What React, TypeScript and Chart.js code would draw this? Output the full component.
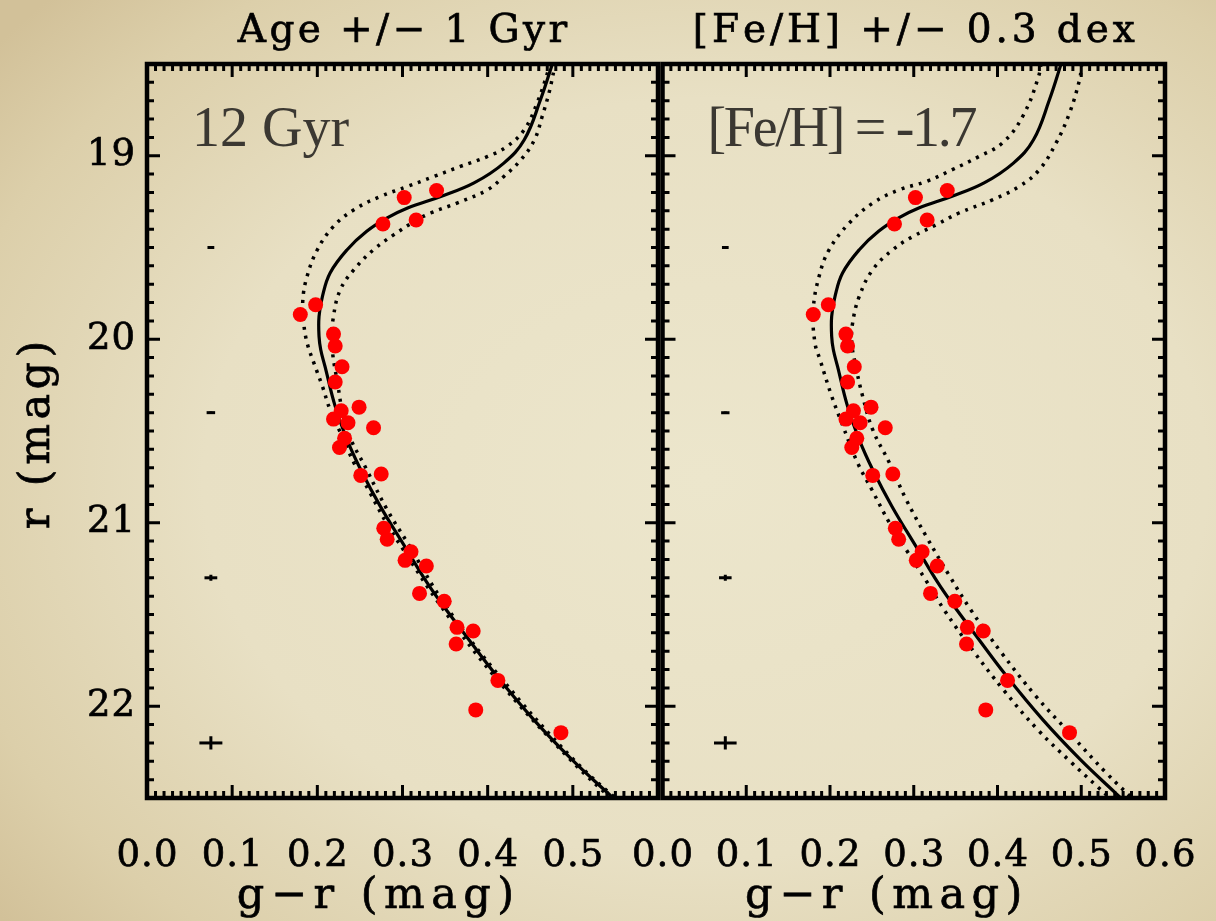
import React, { useEffect, useRef } from "react";
import { Chart, registerables } from "chart.js";
Chart.register(...registerables);

// ---- observed stars (g-r colour, r magnitude) ----
const starColor = [0.302, 0.340, 0.277, 0.316, 0.198, 0.180, 0.219, 0.221, 0.229, 0.221, 0.249, 0.228, 0.219, 0.236, 0.266, 0.232, 0.226, 0.275, 0.251, 0.278, 0.282, 0.310, 0.303, 0.328, 0.320, 0.349, 0.364, 0.383, 0.363, 0.412, 0.386, 0.486];
const starMag = [19.228, 19.189, 19.372, 19.350, 19.812, 19.865, 19.972, 20.037, 20.150, 20.233, 20.370, 20.390, 20.435, 20.455, 20.482, 20.540, 20.590, 20.734, 20.742, 21.030, 21.090, 21.158, 21.205, 21.236, 21.385, 21.428, 21.570, 21.590, 21.661, 21.859, 22.020, 22.144];

// ---- best-fit isochrone (12 Gyr, [Fe/H] = -1.7) ----
const isoMag = [18.45, 18.513, 18.695, 18.913, 19.04, 19.148, 19.222, 19.285, 19.339, 19.412, 19.512, 19.639, 19.766, 19.875, 19.984, 20.057, 20.148, 20.366, 20.548, 20.711, 20.911, 21.147, 21.328, 21.447, 21.601, 21.837, 22.073, 22.291, 22.473, 22.55];
const isoColor = [0.479, 0.475, 0.462, 0.443, 0.419, 0.384, 0.345, 0.306, 0.282, 0.258, 0.235, 0.215, 0.206, 0.202, 0.202, 0.204, 0.209, 0.221, 0.235, 0.251, 0.274, 0.305, 0.329, 0.347, 0.372, 0.411, 0.454, 0.499, 0.541, 0.559];

// ---- age -1 Gyr ----
const ageYoungMag = [18.45, 18.522, 18.713, 18.858, 18.949, 19.004, 19.058, 19.113, 19.167, 19.222, 19.294, 19.385, 19.512, 19.657, 19.784, 19.911, 20.02, 20.13, 20.257, 20.384, 20.548, 20.674, 20.838, 21.0, 21.147, 21.447, 21.837, 22.291, 22.55];
const ageYoungColor = [0.476, 0.472, 0.458, 0.443, 0.423, 0.400, 0.368, 0.337, 0.306, 0.274, 0.243, 0.219, 0.200, 0.188, 0.183, 0.184, 0.188, 0.196, 0.206, 0.215, 0.231, 0.243, 0.262, 0.281, 0.301, 0.344, 0.408, 0.497, 0.556];

// ---- age +1 Gyr ----
const ageOldMag = [18.45, 18.531, 18.658, 18.786, 18.913, 19.022, 19.113, 19.185, 19.258, 19.312, 19.35, 19.43, 19.512, 19.621, 19.73, 19.875, 20.02, 20.22, 20.493, 20.711, 20.929, 21.11, 21.447, 21.837, 22.291, 22.55];
const ageOldColor = [0.482, 0.478, 0.472, 0.464, 0.455, 0.439, 0.419, 0.400, 0.364, 0.333, 0.317, 0.290, 0.266, 0.243, 0.227, 0.219, 0.217, 0.223, 0.235, 0.258, 0.282, 0.306, 0.350, 0.414, 0.501, 0.562];

// ---- [Fe/H] -0.3 dex ----
const fehPoorMag = [18.45, 18.568, 18.786, 18.93, 19.004, 19.076, 19.14, 19.185, 19.258, 19.367, 19.512, 19.657, 19.839, 20.02, 20.11, 20.31, 20.456, 20.674, 20.82, 21.001, 21.147, 21.31, 21.48, 21.692, 21.91, 22.128, 22.31, 22.437, 22.55];
const fehPoorColor = [0.453, 0.449, 0.430, 0.406, 0.378, 0.346, 0.315, 0.283, 0.251, 0.223, 0.199, 0.187, 0.180, 0.182, 0.188, 0.202, 0.214, 0.233, 0.250, 0.271, 0.291, 0.314, 0.337, 0.370, 0.407, 0.448, 0.489, 0.519, 0.546];

// ---- [Fe/H] +0.3 dex ----
const fehRichMag = [18.45, 18.52, 18.586, 18.767, 18.93, 19.076, 19.167, 19.24, 19.312, 19.376, 19.44, 19.512, 19.621, 19.766, 19.911, 20.02, 20.13, 20.311, 20.493, 20.674, 20.874, 21.075, 21.292, 21.474, 21.71, 21.946, 22.146, 22.364, 22.55];
const fehRichColor = [0.502, 0.500, 0.498, 0.486, 0.470, 0.450, 0.426, 0.394, 0.354, 0.327, 0.299, 0.275, 0.251, 0.235, 0.227, 0.226, 0.230, 0.239, 0.251, 0.271, 0.291, 0.315, 0.343, 0.368, 0.405, 0.446, 0.486, 0.530, 0.572];

// ---- typical photometric errors ----
const errMag = [19.5, 20.4, 21.3, 22.2];
const errColorErr = [0.004, 0.005, 0.0075, 0.0135];
const errMagErr = [0.004, 0.006, 0.016, 0.036];
const errColorPos = 0.075;

// ---- tick labels ----
const xTickLabelsLeft = ["0.0", "0.1", "0.2", "0.3", "0.4", "0.5"];
const xTickLabelsRight = ["0.0", "0.1", "0.2", "0.3", "0.4", "0.5", "0.6"];
const yTickLabels = ["19", "20", "21", "22"];

const W = 1216;
const H = 921;
const TICK_FONT = '37px "DejaVu Serif"';
const TITLE_FONT = '39px "DejaVu Serif"';
const AXTITLE_FONT = '43px "DejaVu Serif"';
const NOTE_FONT = '56px "Liberation Serif"';

const pts = (xs: number[], ys: number[]) => xs.map((v, i) => ({ x: v, y: ys[i] }));

function drawSpaced(ctx: CanvasRenderingContext2D, text: string, x: number, y: number, ls: number, align: string, stroke: number) {
  const chars = Array.from(text);
  const widths = chars.map((c) => ctx.measureText(c).width);
  const total = widths.reduce((a, b) => a + b, 0) + ls * (chars.length - 1);
  let cx = align === "center" ? x - total / 2 : align === "right" ? x - total : x;
  ctx.textAlign = "left";
  chars.forEach((c, i) => {
    ctx.fillText(c, cx, y);
    if (stroke > 0) {
      ctx.lineWidth = stroke;
      ctx.strokeText(c, cx, y);
    }
    cx += widths[i] + ls;
  });
}

type Panel = {
  key: string;
  left: number;
  right: number;
  title: string;
  titleLs: number;
  note: string;
  noteLs: number;
  xLabels: string[];
  showY: boolean;
  loColor: number[];
  loMag: number[];
  hiColor: number[];
  hiMag: number[];
  xTitleShift: number;
};

const TOP = 64;
const BOTTOM = 798;

const leftPanel: Panel = {
  key: "L",
  left: 147,
  right: 658,
  title: "Age +/\u2212 1 Gyr",
  titleLs: 3.4,
  note: "12 Gyr",
  noteLs: 0,
  xLabels: xTickLabelsLeft,
  showY: true,
  loColor: ageYoungColor,
  loMag: ageYoungMag,
  hiColor: ageOldColor,
  hiMag: ageOldMag,
  xTitleShift: -27,
};

const rightPanel: Panel = {
  key: "R",
  left: 662.5,
  right: 1165,
  title: "[Fe/H] +/\u2212 0.3 dex",
  titleLs: 3.9,
  note: "[Fe/H] = -1.7",
  noteLs: -2.3,
  xLabels: xTickLabelsRight,
  showY: false,
  loColor: fehPoorColor,
  loMag: fehPoorMag,
  hiColor: fehRichColor,
  hiMag: fehRichMag,
  xTitleShift: -30,
};

function makePlugin(p: Panel) {
  return {
    id: "panelDecor" + p.key,
    afterDatasetsDraw(chart: any) {
      const { ctx, chartArea: a, scales } = chart;
      const x = scales.x;
      const y = scales.y;
      ctx.save();
      ctx.strokeStyle = "#000";
      ctx.lineCap = "butt";
      ctx.lineWidth = 3;
      ctx.beginPath();
      for (let i = 0; i <= 60; i++) {
        const px = x.getPixelForValue(i / 100);
        const L = i % 10 === 0 ? 13 : 7;
        ctx.moveTo(px, a.bottom);
        ctx.lineTo(px, a.bottom - L);
        ctx.moveTo(px, a.top);
        ctx.lineTo(px, a.top + L);
      }
      for (let i = 0; i <= 40; i++) {
        const py = y.getPixelForValue(18.5 + i / 10);
        const L = i % 10 === 5 ? 13 : 7;
        ctx.moveTo(a.left, py);
        ctx.lineTo(a.left + L, py);
        ctx.moveTo(a.right, py);
        ctx.lineTo(a.right - L, py);
      }
      ctx.stroke();
      ctx.lineWidth = 4.5;
      ctx.strokeRect(a.left, a.top, a.right - a.left, a.bottom - a.top);
      ctx.restore();
    },
    afterDraw(chart: any) {
      const { ctx, chartArea: a, scales } = chart;
      const x = scales.x;
      const y = scales.y;
      ctx.save();
      ctx.fillStyle = "#000";
      ctx.strokeStyle = "#000";
      ctx.textBaseline = "alphabetic";
      // x tick labels
      ctx.font = TICK_FONT;
      p.xLabels.forEach((lab) => {
        drawSpaced(ctx, lab, x.getPixelForValue(parseFloat(lab)), 866, 1, "center", 0.7);
      });
      // y tick labels + y title
      if (p.showY) {
        ctx.textBaseline = "middle";
        yTickLabels.forEach((lab) => {
          drawSpaced(ctx, lab, a.left - 12, y.getPixelForValue(parseFloat(lab)), 1, "right", 0.7);
        });
        ctx.font = AXTITLE_FONT;
        ctx.save();
        ctx.translate(38, (a.top + a.bottom) / 2 + 4);
        ctx.rotate(-Math.PI / 2);
        drawSpaced(ctx, "r (mag)", 0, 0, 4.5, "center", 0.7);
        ctx.restore();
        ctx.textBaseline = "alphabetic";
      }
      // title
      ctx.font = TITLE_FONT;
      drawSpaced(ctx, p.title, (a.left + a.right) / 2, 42, p.titleLs, "center", 0.7);
      // x title
      ctx.font = AXTITLE_FONT;
      drawSpaced(ctx, "g\u2212r (mag)", (a.left + a.right) / 2 + p.xTitleShift, 908, 6.5, "center", 0.7);
      // annotation
      ctx.font = NOTE_FONT;
      ctx.fillStyle = "#3b3832";
      drawSpaced(ctx, p.note, a.left + 45, 146, p.noteLs, "left", 0);
      ctx.restore();
    },
  };
}

function buildConfig(p: Panel): any {
  const datasets: any[] = [
    {
      label: "stars",
      data: pts(starColor, starMag),
      showLine: false,
      pointRadius: 7.5,
      pointBackgroundColor: "#ff0000",
      pointBorderWidth: 0,
      pointBorderColor: "#ff0000",
    },
    {
      label: "isochrone",
      data: pts(isoColor, isoMag),
      showLine: true,
      pointRadius: 0,
      borderColor: "#000",
      borderWidth: 3.2,
      tension: 0.4,
      fill: false,
    },
    {
      label: "lower",
      data: pts(p.loColor, p.loMag),
      showLine: true,
      pointRadius: 0,
      borderColor: "#000",
      borderWidth: 3.5,
      borderDash: [3, 6],
      borderCapStyle: "butt",
      tension: 0.4,
      fill: false,
    },
    {
      label: "upper",
      data: pts(p.hiColor, p.hiMag),
      showLine: true,
      pointRadius: 0,
      borderColor: "#000",
      borderWidth: 3.5,
      borderDash: [3, 6],
      borderCapStyle: "butt",
      tension: 0.4,
      fill: false,
    },
  ];
  errMag.forEach((m, i) => {
    datasets.push({
      label: "errx" + i,
      data: [
        { x: errColorPos - errColorErr[i], y: m },
        { x: errColorPos + errColorErr[i], y: m },
      ],
      showLine: true,
      pointRadius: 0,
      borderColor: "#000",
      borderWidth: 3,
      fill: false,
    });
    datasets.push({
      label: "erry" + i,
      data: [
        { x: errColorPos, y: m - errMagErr[i] },
        { x: errColorPos, y: m + errMagErr[i] },
      ],
      showLine: true,
      pointRadius: 0,
      borderColor: "#000",
      borderWidth: 3,
      fill: false,
    });
  });
  return {
    type: "scatter",
    data: { datasets },
    options: {
      responsive: false,
      maintainAspectRatio: false,
      devicePixelRatio: 1,
      animation: false,
      events: [],
      layout: { padding: { left: p.left, right: W - p.right, top: TOP, bottom: H - BOTTOM } },
      scales: {
        x: { type: "linear", min: 0, max: 0.6, display: false },
        y: { type: "linear", min: 18.5, max: 22.5, reverse: true, display: false },
      },
      plugins: { legend: { display: false }, tooltip: { enabled: false }, title: { display: false } },
    },
    plugins: [makePlugin(p)],
  };
}

export default function App() {
  const leftRef = useRef<HTMLCanvasElement>(null);
  const rightRef = useRef<HTMLCanvasElement>(null);
  useEffect(() => {
    const charts = [
      new Chart(leftRef.current as HTMLCanvasElement, buildConfig(leftPanel)),
      new Chart(rightRef.current as HTMLCanvasElement, buildConfig(rightPanel)),
    ];
    return () => charts.forEach((c) => c.destroy());
  }, []);
  const canvasStyle: React.CSSProperties = { position: "absolute", left: 0, top: 0, width: W, height: H };
  return (
    <div
      style={{
        position: "absolute",
        left: 0,
        top: 0,
        width: W,
        height: H,
        overflow: "hidden",
        background:
          "radial-gradient(ellipse 75% 75% at 58% 52%, #ece6cc 0%, #e8e0c4 55%, #dccfaa 85%, #d2c199 100%)",
      }}
    >
      <canvas ref={leftRef} width={W} height={H} style={canvasStyle} />
      <canvas ref={rightRef} width={W} height={H} style={canvasStyle} />
    </div>
  );
}
